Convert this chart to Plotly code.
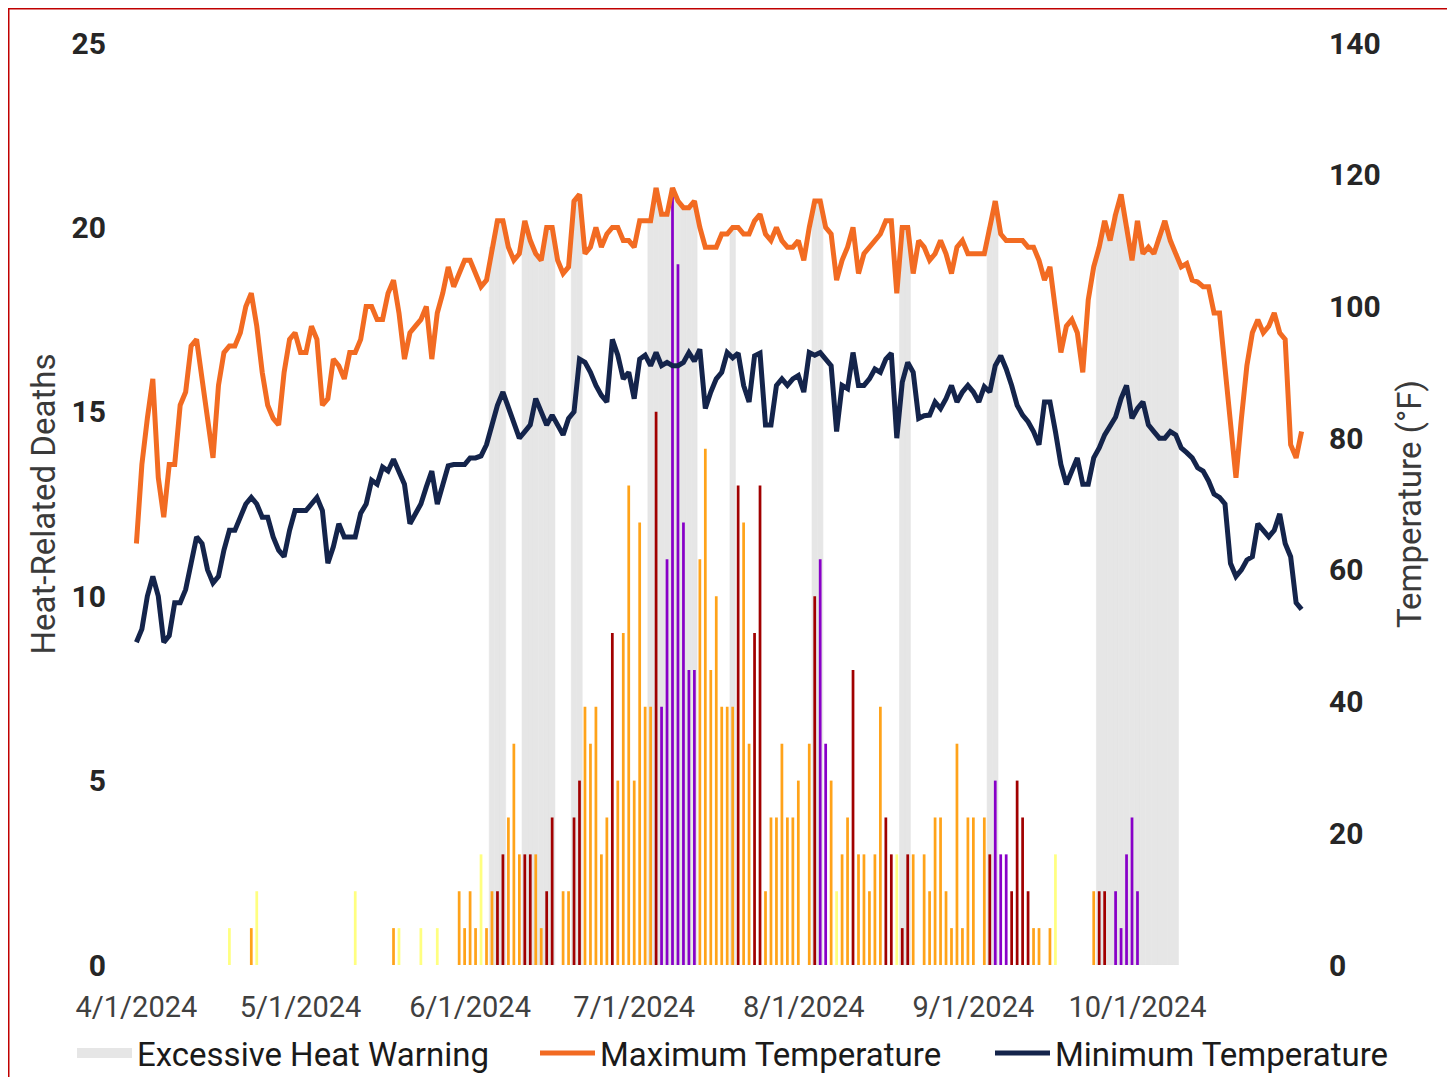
import pandas as pd
import plotly.graph_objects as go

# ---------------- data ----------------
START_DATE = "2024-04-01"

max_temp = [
    64, 76, 83, 89, 74, 68, 76, 76, 85, 87,
    94, 95, 89, 83, 77, 88, 93, 94, 94, 96,
    100, 102, 97, 90, 85, 83, 82, 90, 95, 96,
    93, 93, 97, 95, 85, 86, 92, 91, 89, 93,
    93, 95, 100, 100, 98, 98, 102, 104, 99, 92,
    96, 97, 98, 100, 92, 99, 102, 106, 103, 105,
    107, 107, 105, 103, 104, 109, 113, 113, 109, 107,
    108, 113, 110, 108, 107, 112, 112, 107, 105, 106,
    116, 117, 108, 109, 112, 109, 111, 112, 112, 110,
    110, 109, 113, 113, 113, 118, 114, 114, 118, 116,
    115, 115, 116, 112, 109, 109, 109, 111, 111, 112,
    112, 111, 111, 113, 114, 111, 110, 112, 110, 109,
    109, 110, 107, 112, 116, 116, 112, 111, 104, 107,
    109, 112, 105, 108, 109, 110, 111, 113, 113, 102,
    112, 112, 105, 110, 109, 107, 108, 110, 108, 105,
    109, 110, 108, 108, 108, 108, 112, 116, 111, 110,
    110, 110, 110, 109, 109, 107, 104, 106, 99, 93,
    97, 98, 96, 90, 101, 106, 109, 113, 110, 114,
    117, 112, 107, 113, 108, 109, 108, 110.5, 113, 110,
    108, 106, 106.5, 104, 103.7, 103, 103, 99, 99, 90,
    81, 74, 83, 91, 96, 98, 96, 97, 99, 96,
    95, 79, 77, 81,
]

min_temp = [
    49, 51, 56, 59, 56, 49, 50, 55, 55, 57,
    61, 65, 64, 60, 58, 59, 63, 66, 66, 68,
    70, 71, 70, 68, 68, 65, 63, 62, 66, 69,
    69, 69, 70, 71, 69, 61, 63.5, 67, 65, 65,
    65, 68.6, 70, 73.6, 73, 75.6, 75, 76.8, 75, 73,
    67, 68.6, 70, 72.6, 75, 70, 73, 75.8, 76, 76,
    76, 77, 77, 77.3, 79, 82, 85, 87, 84.5, 82,
    80, 81, 82, 86, 84, 82, 83.5, 82, 80.5, 83,
    84, 92, 91.5, 90, 88, 86.5, 85.5, 95, 92.6, 89,
    90, 86, 92, 92.6, 91, 93, 91, 91.5, 91, 91,
    91.5, 93, 91.7, 93.5, 84.5, 87, 89, 90, 93, 92.2,
    92.9, 88, 85.5, 92.5, 92.9, 82, 82, 88, 89, 88,
    89, 89.5, 87, 93, 92.6, 93, 92, 91, 81, 88,
    87.5, 93, 88, 88, 89, 90.5, 90, 92, 92.9, 80,
    88.5, 91.5, 90, 83, 83.4, 83.5, 85.5, 84.5, 86, 88,
    85.5, 87, 88, 87, 85.5, 87.8, 87, 91, 92.5, 90.5,
    88, 85, 83.5, 82.5, 81, 79, 85.5, 85.5, 81, 76,
    73, 75, 77, 73, 73, 77, 78.5, 80.5, 82, 83.2,
    86, 88, 83, 84.5, 85.5, 82, 81, 80, 80, 81,
    80.5, 78.5, 77.8, 77, 75.5, 75, 73.5, 71.5, 71, 70,
    61, 59, 60, 61.5, 62, 67, 66, 65, 66, 68.5,
    64, 62, 55, 54,
]

heat_deaths = [
    0, 0, 0, 0, 0, 0, 0, 0, 0, 0,
    0, 0, 0, 0, 0, 0, 0, 1, 0, 0,
    0, 1, 2, 0, 0, 0, 0, 0, 0, 0,
    0, 0, 0, 0, 0, 0, 0, 0, 0, 0,
    2, 0, 0, 0, 0, 0, 0, 1, 1, 0,
    0, 0, 1, 0, 0, 1, 0, 0, 0, 2,
    1, 2, 1, 3, 1, 2, 2, 3, 4, 6,
    3, 3, 3, 3, 1, 2, 4, 0, 2, 2,
    4, 5, 7, 6, 7, 3, 4, 9, 5, 9,
    13, 5, 12, 7, 7, 15, 7, 11, 21, 19,
    12, 8, 8, 11, 14, 8, 10, 7, 7, 7,
    13, 12, 6, 9, 13, 2, 4, 4, 6, 4,
    4, 5, 0, 6, 10, 11, 6, 5, 2, 3,
    4, 8, 3, 3, 2, 3, 7, 4, 3, 3,
    1, 3, 3, 0, 3, 2, 4, 4, 2, 1,
    6, 1, 4, 4, 0, 4, 3, 5, 3, 3,
    2, 5, 4, 2, 1, 1, 0, 1, 3, 0,
    0, 0, 0, 0, 0, 2, 2, 2, 0, 2,
    1, 3, 4, 2, 0, 0, 0, 0, 0, 0,
    0, 0, 0, 0, 0, 0, 0, 0, 0, 0,
    0, 0, 0, 0, 0, 0, 0, 0, 0, 0,
    0, 0, 0, 0,
]

# heat risk category of each day's bar: 0 none, 1 minor, 2 moderate, 3 major, 4 extreme
heat_risk = [
    0, 0, 0, 0, 0, 0, 0, 0, 0, 0,
    0, 0, 0, 0, 0, 0, 0, 1, 0, 0,
    0, 2, 1, 0, 0, 0, 0, 0, 0, 0,
    0, 0, 0, 0, 0, 0, 0, 0, 0, 0,
    1, 0, 0, 0, 0, 0, 0, 2, 1, 0,
    0, 0, 1, 0, 0, 1, 0, 0, 0, 2,
    2, 2, 2, 1, 2, 2, 3, 3, 2, 2,
    2, 3, 3, 2, 2, 3, 3, 0, 2, 2,
    3, 3, 2, 2, 2, 2, 2, 3, 2, 2,
    2, 2, 2, 2, 2, 3, 4, 4, 4, 4,
    4, 4, 4, 2, 2, 2, 2, 2, 2, 2,
    3, 2, 2, 3, 3, 2, 2, 2, 2, 2,
    2, 2, 0, 2, 3, 4, 4, 2, 1, 2,
    2, 3, 2, 2, 2, 2, 2, 3, 3, 1,
    3, 3, 2, 0, 2, 2, 2, 2, 2, 2,
    2, 2, 2, 2, 0, 2, 3, 4, 4, 4,
    3, 3, 3, 3, 2, 2, 0, 2, 1, 0,
    0, 0, 0, 0, 0, 2, 3, 3, 0, 4,
    4, 4, 4, 4, 0, 0, 0, 0, 0, 0,
    0, 0, 0, 0, 0, 0, 0, 0, 0, 0,
    0, 0, 0, 0, 0, 0, 0, 0, 0, 0,
    0, 0, 0, 0,
]

warning_periods = [
    ("2024-06-05", "2024-06-07"),
    ("2024-06-11", "2024-06-16"),
    ("2024-06-20", "2024-06-21"),
    ("2024-07-04", "2024-07-12"),
    ("2024-07-19", "2024-07-19"),
    ("2024-08-03", "2024-08-04"),
    ("2024-08-19", "2024-08-20"),
    ("2024-09-04", "2024-09-05"),
    ("2024-09-24", "2024-10-08"),
]

tick_dates = ["2024-04-01", "2024-05-01", "2024-06-01", "2024-07-01",
              "2024-08-01", "2024-09-01", "2024-10-01"]
tick_labels = ["4/1/2024", "5/1/2024", "6/1/2024", "7/1/2024",
               "8/1/2024", "9/1/2024", "10/1/2024"]

deaths_ticks = [0, 5, 10, 15, 20, 25]
temp_ticks = [0, 20, 40, 60, 80, 100, 120, 140]

# ---------------- derived ----------------
dates = pd.date_range(START_DATE, periods=len(max_temp), freq="D")
s_max = pd.Series(max_temp, index=dates, dtype=float)
warn = pd.Series(False, index=dates)
for a, b in warning_periods:
    warn[a:b] = True
warn_height = s_max.where(warn)

RISK_COLORS = {0: "rgba(0,0,0,0)", 1: "#ffff80", 2: "#ffa31a", 3: "#a10000", 4: "#8800c8"}
bar_colors = [RISK_COLORS[r] for r in heat_risk]

DAY_MS = 86400000
WARN_GRAY = "#e6e6e6"
MAX_COLOR = "#f26b22"
MIN_COLOR = "#14244b"

# ---------------- layout geometry (page body has an 8px margin) ----------------
FIG_W, FIG_H = 1447, 1069
ML, MR, MT, MB = 112, 137, 35, 112
PW = FIG_W - ML - MR
PH = FIG_H - MT - MB


def px_x(px):
    return (px - ML) / PW


def px_y(py):
    return (FIG_H - MB - py) / PH


FONT = "Roboto, Arial, sans-serif"
LEG_FONT = dict(family=FONT, size=33, color="#1a1a1a")

fig = go.Figure()
fig.add_trace(go.Bar(
    x=dates, y=warn_height, width=DAY_MS, yaxis="y",
    marker=dict(color=WARN_GRAY, line=dict(width=0.6, color=WARN_GRAY)),
    name="Excessive Heat Warning", showlegend=False, legendgroup="warn",
))
# legend swatch for the warning shading
fig.add_trace(go.Scatter(
    x=[None], y=[None], yaxis="y3", mode="lines",
    line=dict(color=WARN_GRAY, width=20),
    name="Excessive Heat Warning", legend="legend", legendgroup="warn",
))
fig.add_trace(go.Bar(
    x=dates, y=heat_deaths, width=0.5 * DAY_MS, yaxis="y2",
    marker=dict(color=bar_colors, line=dict(width=0)),
    name="Heat-Related Deaths", showlegend=False,
))
fig.add_trace(go.Scatter(
    x=dates, y=max_temp, yaxis="y3", mode="lines",
    line=dict(color=MAX_COLOR, width=5),
    name="Maximum Temperature", legend="legend2",
))
fig.add_trace(go.Scatter(
    x=dates, y=min_temp, yaxis="y3", mode="lines",
    line=dict(color=MIN_COLOR, width=5),
    name="Minimum Temperature", legend="legend3",
))

x_range = [dates[0] - pd.Timedelta(days=3), dates[-1] + pd.Timedelta(days=3)]

tick_font = dict(family=FONT, size=30, color="#262626", weight="bold")
title_font = dict(family=FONT, size=33, color="#3a3a3a")


def legend_at(text_left_px):
    return dict(
        orientation="h", x=px_x(text_left_px - 65), y=px_y(1045),
        xanchor="left", yanchor="middle", itemwidth=55,
        font=LEG_FONT, bgcolor="rgba(0,0,0,0)",
    )


fig.update_layout(
    width=FIG_W, height=FIG_H,
    margin=dict(l=ML, r=MR, t=MT, b=MB, autoexpand=False),
    paper_bgcolor="white", plot_bgcolor="white",
    barmode="overlay",
    xaxis=dict(
        type="date", range=x_range,
        tickvals=tick_dates, ticktext=tick_labels,
        showgrid=False, zeroline=False, showline=False, ticks="",
        tickfont=dict(family=FONT, size=29, color="#404040"),
        ticklabelstandoff=22,
    ),
    yaxis=dict(
        side="right", range=[0, 140], tickvals=temp_ticks,
        showgrid=False, zeroline=False, showline=False, ticks="",
        tickfont=tick_font, ticklabelstandoff=10,
        title=dict(text="Temperature (°F)", font=title_font, standoff=18),
    ),
    yaxis2=dict(
        overlaying="y", side="left", range=[0, 25], tickvals=deaths_ticks,
        showgrid=False, zeroline=False, showline=False, ticks="",
        tickfont=tick_font, ticklabelstandoff=13,
        title=dict(text="Heat-Related Deaths", font=title_font, standoff=6),
    ),
    yaxis3=dict(overlaying="y", range=[0, 140], visible=False),
    legend=legend_at(129),
    legend2=legend_at(592),
    legend3=legend_at(1047),
    shapes=[
        dict(type="line", xref="paper", yref="paper",
             x0=px_x(0), x1=px_x(FIG_W), y0=px_y(0.5), y1=px_y(0.5),
             line=dict(color="#c00000", width=2), layer="above"),
        dict(type="line", xref="paper", yref="paper",
             x0=px_x(0.5), x1=px_x(0.5), y0=px_y(0), y1=px_y(FIG_H),
             line=dict(color="#c00000", width=2), layer="above"),
    ],
)

fig.write_html("out.html")
